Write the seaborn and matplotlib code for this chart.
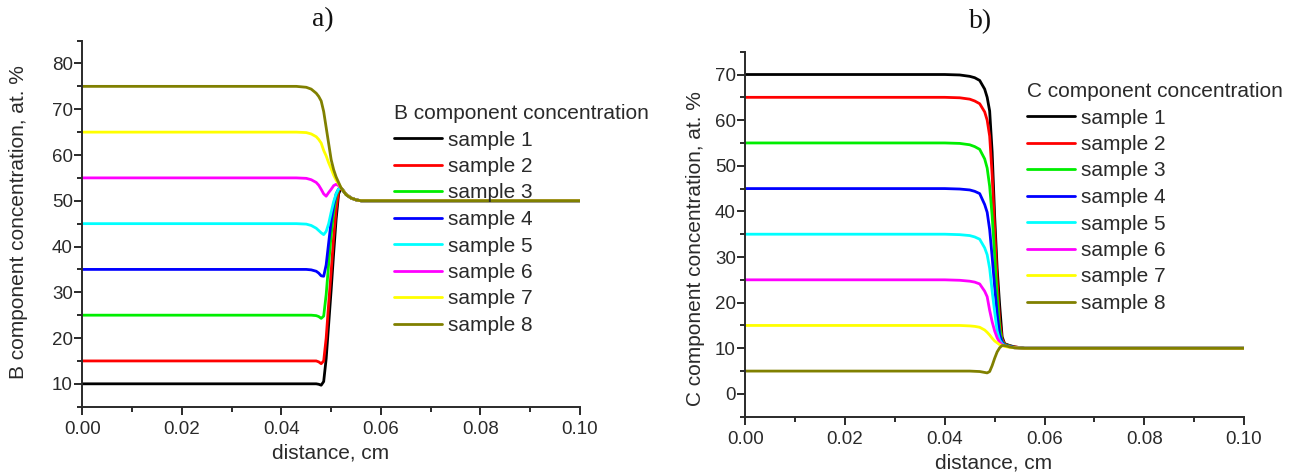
import numpy as np
import pandas as pd
import matplotlib
matplotlib.use("Agg")
import matplotlib.pyplot as plt
import matplotlib.ticker as mticker
import seaborn as sns

# ---------------- data ----------------
SAMPLES = ["sample 1", "sample 2", "sample 3", "sample 4",
           "sample 5", "sample 6", "sample 7", "sample 8"]
COLORS = ["#000000", "#ff0000", "#00ee00", "#0000ff",
          "#00ffff", "#ff00ff", "#ffff00", "#808000"]

# panel a) B component
XB = [0, 0.043, 0.045, 0.046, 0.047, 0.0475, 0.048, 0.0485, 0.049, 0.0495,
      0.050, 0.0505, 0.051, 0.0515, 0.052, 0.053, 0.054, 0.055, 0.056, 0.1]
B1 = [10, 10, 10, 10, 10, 9.9, 9.7, 10.5, 15.5, 23, 30.5, 38.5, 46, 51.5, 52.8, 51.4, 50.6, 50.2, 50, 50]
B2 = [15, 15, 15, 15, 15, 14.8, 14.4, 15.0, 20.0, 27.5, 34.5, 42, 48, 52.2, 52.8, 51.4, 50.6, 50.2, 50, 50]
B3 = [25, 25, 25, 25, 24.9, 24.7, 24.3, 24.8, 29.5, 36.2, 42.5, 47.5, 51.0, 52.5, 52.8, 51.4, 50.6, 50.2, 50, 50]
B4 = [35, 35, 35, 34.9, 34.6, 34.2, 33.6, 33.5, 36.0, 40.8, 45.5, 49.0, 51.5, 52.6, 52.8, 51.4, 50.6, 50.2, 50, 50]
B5 = [45, 45, 44.9, 44.6, 44.0, 43.5, 43.0, 42.6, 43.3, 45.0, 47.5, 49.8, 51.5, 52.6, 52.8, 51.4, 50.6, 50.2, 50, 50]
B6 = [55, 55, 54.9, 54.6, 54.0, 53.4, 52.5, 51.5, 51.0, 51.8, 52.5, 53.3, 53.6, 53.3, 52.8, 51.4, 50.6, 50.2, 50, 50]
B7 = [65, 65, 64.9, 64.6, 64.0, 63.4, 62.6, 61.0, 59.8, 58.3, 57.0, 55.6, 54.5, 53.7, 52.8, 51.4, 50.6, 50.2, 50, 50]
B8 = [75, 75, 74.8, 74.4, 73.5, 72.8, 71.8, 69.5, 66.0, 62.5, 59.0, 56.8, 55.2, 54.0, 52.8, 51.3, 50.6, 50.2, 50, 50]

# panel b) C component
XC = [0, 0.040, 0.043, 0.045, 0.046, 0.047, 0.048, 0.0485, 0.049, 0.0495,
      0.050, 0.0505, 0.051, 0.0515, 0.052, 0.053, 0.054, 0.056, 0.1]
C1 = [70, 70, 69.9, 69.6, 69.3, 68.7, 66.8, 65.0, 62.0, 53.0, 39.0, 27.5, 19.5, 12.5, 11.0, 10.6, 10.3, 10, 10]
C2 = [65, 65, 64.9, 64.6, 64.2, 63.6, 61.8, 60.0, 56.5, 48.0, 36.0, 25.0, 16.0, 12.0, 10.9, 10.5, 10.3, 10, 10]
C3 = [55, 55, 54.9, 54.6, 54.2, 53.6, 51.5, 49.5, 45.5, 39.0, 30.5, 21.5, 14.5, 11.5, 10.8, 10.5, 10.2, 10, 10]
C4 = [45, 45, 44.9, 44.7, 44.4, 43.9, 41.5, 39.8, 36.0, 30.0, 23.5, 17.5, 13.0, 11.3, 10.7, 10.4, 10.2, 10, 10]
C5 = [35, 35, 34.9, 34.7, 34.4, 33.9, 32.0, 30.5, 27.5, 22.5, 18.0, 13.8, 11.8, 11.0, 10.6, 10.3, 10.1, 10, 10]
C6 = [25, 25, 24.9, 24.7, 24.5, 24.1, 22.5, 21.3, 18.3, 15.8, 13.8, 12.3, 11.3, 10.8, 10.5, 10.3, 10.1, 10, 10]
C7 = [15, 15, 15, 14.9, 14.8, 14.6, 14.0, 13.5, 12.9, 12.2, 11.6, 11.2, 10.8, 10.6, 10.4, 10.2, 10.1, 10, 10]
C8 = [5, 5, 5, 5, 4.95, 4.9, 4.7, 4.6, 4.9, 6.2, 7.8, 9.2, 10.1, 10.6, 10.6, 10.3, 10.1, 10, 10]

B_SERIES = [B1, B2, B3, B4, B5, B6, B7, B8]
C_SERIES = [C1, C2, C3, C4, C5, C6, C7, C8]


def long_frame(x, series):
    rows = []
    for name, ys in zip(SAMPLES, series):
        for xv, yv in zip(x, ys):
            rows.append({"distance": xv, "conc": yv, "sample": name})
    return pd.DataFrame(rows)


dfB = long_frame(XB, B_SERIES)
dfC = long_frame(XC, C_SERIES)

# ---------------- style ----------------
sns.set_theme(style="ticks")
plt.rcParams["font.family"] = ["Liberation Sans", "DejaVu Sans"]
INK = "#2a2a2a"

W, H = 1299, 476
fig = plt.figure(figsize=(W / 100, H / 100), dpi=100)
fig.patch.set_facecolor("white")


def px_axes(left, right, bottom, top):
    return fig.add_axes([left / W, 1 - bottom / H, (right - left) / W, (bottom - top) / H])


axA = px_axes(82.3, 580.0, 406.7, 40.6)
axB = px_axes(745.3, 1244.0, 416.7, 51.7)

palette = dict(zip(SAMPLES, COLORS))

for ax, df in ((axA, dfB), (axB, dfC)):
    sns.lineplot(data=df, x="distance", y="conc", hue="sample", hue_order=SAMPLES,
                 palette=palette, linewidth=2.0, ax=ax, sort=True, legend=True)
    ax.set_facecolor("white")
    ax.set_xlim(0, 0.1)
    ax.xaxis.set_major_locator(mticker.MultipleLocator(0.02))
    ax.xaxis.set_minor_locator(mticker.MultipleLocator(0.01))
    ax.xaxis.set_major_formatter(mticker.FormatStrFormatter("%.2f"))
    ax.yaxis.set_major_locator(mticker.MultipleLocator(10))
    ax.yaxis.set_minor_locator(mticker.MultipleLocator(5))
    for s in ("top", "right"):
        ax.spines[s].set_visible(False)
    for s in ("left", "bottom"):
        ax.spines[s].set_color(INK)
        ax.spines[s].set_linewidth(1.4)
    ax.tick_params(which="major", direction="out", length=6, width=1.4,
                   color=INK, labelcolor=INK, labelsize=13.5, pad=0.8)
    ax.tick_params(which="minor", direction="out", length=3.5, width=1.4, color=INK)
    ax.tick_params(axis="x", which="major", pad=4)
    ax.grid(False)

axA.set_ylim(5, 85)
axB.set_ylim(-5, 75)

# axis labels
axA.set_xlabel("distance, cm", fontsize=15, color=INK)
axA.set_ylabel("B component concentration, at. %", fontsize=15, color=INK)
axB.set_xlabel("distance, cm", fontsize=15, color=INK)
axB.set_ylabel("C component concentration, at. %", fontsize=15, color=INK)

axA.xaxis.set_label_coords(0.498, -0.1265)
axA.xaxis.label.set_verticalalignment("center")
axB.xaxis.set_label_coords(0.498, -0.127)
axB.xaxis.label.set_verticalalignment("center")
axA.yaxis.set_label_coords(-0.128, 0.505)
axA.yaxis.label.set_verticalalignment("center")
axB.yaxis.set_label_coords(-0.0999, 0.462)
axB.yaxis.label.set_verticalalignment("center")

# panel titles
axA.set_title("a)", fontsize=20, family=["Liberation Serif", "DejaVu Serif"],
              color="#111111", y=1.0344, va="center")
axA.title.set_x(0.4836)
axB.set_title("b)", fontsize=20, family=["Liberation Serif", "DejaVu Serif"],
              color="#111111", y=1.0595, va="center")
axB.title.set_x(0.4726)

# legends
for ax, title, (lx, ly) in ((axA, "B component concentration", (394, 104)),
                            (axB, "C component concentration", (1026.6, 82))):
    handles, labels = ax.get_legend_handles_labels()
    leg = ax.legend(handles, labels, title=title, loc="upper left",
                    bbox_to_anchor=(lx / W, 1 - ly / H), bbox_transform=fig.transFigure,
                    frameon=False, fontsize=15, title_fontsize=15,
                    handlelength=2.3, handletextpad=0.3, labelspacing=0.36,
                    borderpad=0, borderaxespad=0, alignment="left")
    for t in leg.get_texts():
        t.set_color(INK)
    leg.get_title().set_color(INK)
    for h in leg.get_lines():
        h.set_linewidth(2.0)

fig.savefig("out.png", dpi=100, facecolor="white")
